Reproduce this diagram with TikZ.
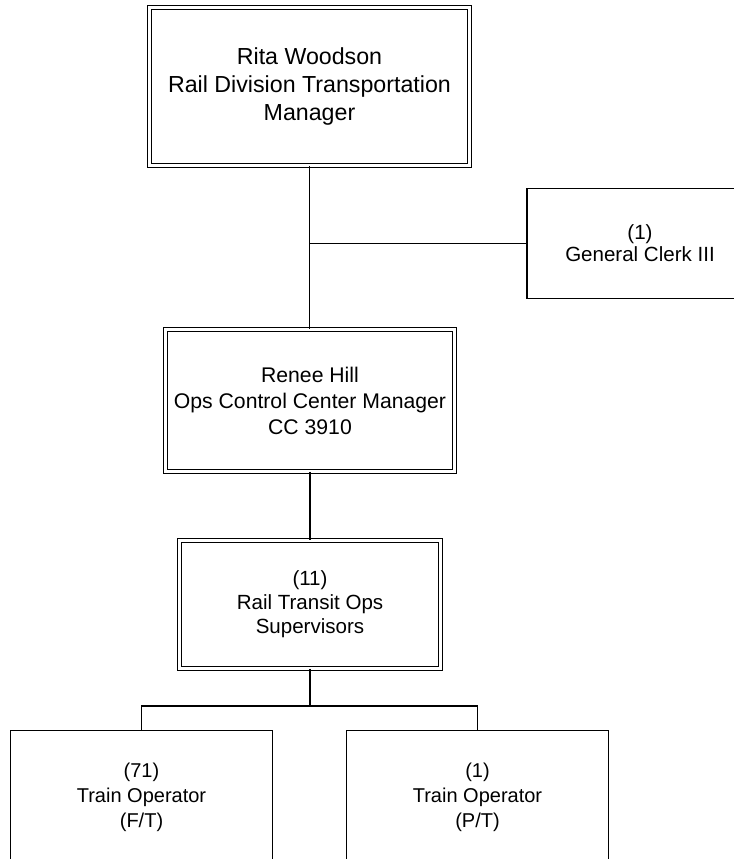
\documentclass[tikz,border=0pt]{standalone}
\usepackage{fontspec}
\setmainfont{Liberation Sans}

\begin{document}
\begin{tikzpicture}[x=0.75pt,y=-0.75pt,
    mgr/.style={draw,double,line width=0.9pt,double distance=2.25pt,
      inner sep=0pt,align=center},
    unit/.style={draw,line width=1.1pt,inner sep=0pt,align=center},
    link/.style={line width=1.2pt}
  ]
  \useasboundingbox (0,0) rectangle (734,859);
  \clip (0,0) rectangle (734,859);
  % managers
  \node[mgr,minimum width=239.7pt,minimum height=118.2pt,
    font=\fontsize{17.4pt}{21pt}\selectfont] (rita) at (309.5,86.5)
    {Rita Woodson\\Rail Division Transportation\\Manager};
  \node[unit,minimum width=169.5pt,minimum height=82.5pt,
    font=\fontsize{15.4pt}{16.5pt}\selectfont] (clerk) at (640,243.5)
    {(1)\\General Clerk III};
  \node[mgr,minimum width=216.5pt,minimum height=106.2pt,
    font=\fontsize{15.9pt}{19.5pt}\selectfont] (renee) at (310,400.5)
    {Renee Hill\\Ops Control Center Manager\\CC 3910};
  \node[mgr,minimum width=195.5pt,minimum height=95.7pt,
    font=\fontsize{15.4pt}{18pt}\selectfont] (sup) at (310,604.5)
    {(11)\\Rail Transit Ops\\Supervisors};
  % operators
  \node[unit,minimum width=196.5pt,minimum height=99.75pt,
    font=\fontsize{15pt}{18.75pt}\selectfont] (ft) at (141.5,797)
    {(71)\\Train Operator\\(F/T)};
  \node[unit,minimum width=196.5pt,minimum height=99.75pt,
    font=\fontsize{15pt}{18.75pt}\selectfont] (pt) at (477.5,797)
    {(1)\\Train Operator\\(P/T)};
  \coordinate (split) at (310,706);
  % lines
  \draw[link] (rita.south) -- (rita.south |- renee.north);
  \draw[link] (rita.south |- clerk.west) -- (clerk.west);
  \draw[link] (renee.south) -- (sup.north);
  \draw[link] (sup.south) -- (split);
  \draw[link] (ft.north) |- (split) -| (pt.north);
\end{tikzpicture}
\end{document}
